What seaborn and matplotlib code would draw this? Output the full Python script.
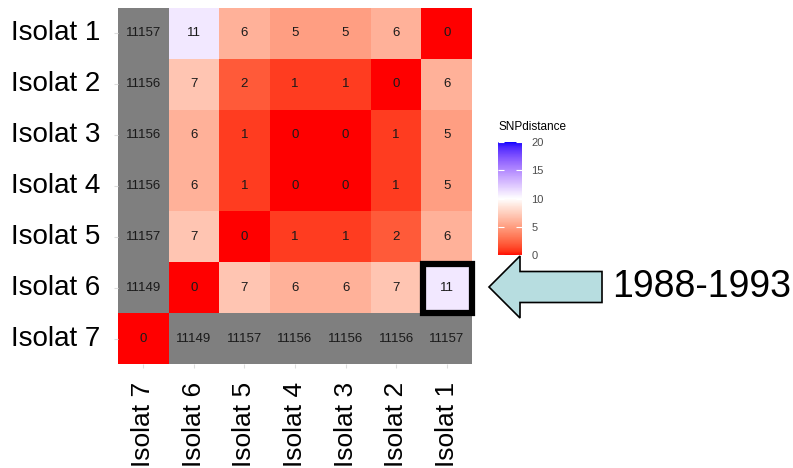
import numpy as np
import pandas as pd
import matplotlib
matplotlib.use("Agg")
import matplotlib.pyplot as plt
from matplotlib.colors import ListedColormap, Normalize
from matplotlib.patches import Rectangle, FancyArrow
import matplotlib.cm as cm
import seaborn as sns

# SNP distance matrix
row_labels = ["Isolat 1", "Isolat 2", "Isolat 3", "Isolat 4", "Isolat 5", "Isolat 6", "Isolat 7"]
col_labels = ["Isolat 7", "Isolat 6", "Isolat 5", "Isolat 4", "Isolat 3", "Isolat 2", "Isolat 1"]
isolat_1 = [11157, 11, 6, 5, 5, 6, 0]
isolat_2 = [11156, 7, 2, 1, 1, 0, 6]
isolat_3 = [11156, 6, 1, 0, 0, 1, 5]
isolat_4 = [11156, 6, 1, 0, 0, 1, 5]
isolat_5 = [11157, 7, 0, 1, 1, 2, 6]
isolat_6 = [11149, 0, 7, 6, 6, 7, 11]
isolat_7 = [0, 11149, 11157, 11156, 11156, 11156, 11157]
highlight_label = "1988-1993"
legend_title = "SNPdistance"
scale_limit = 20

df = pd.DataFrame([isolat_1, isolat_2, isolat_3, isolat_4, isolat_5, isolat_6, isolat_7],
                  index=row_labels, columns=col_labels)


# diverging red-white-blue gradient interpolated in CIE Lab
def srgb_to_lab(rgb):
    rgb = np.asarray(rgb, float)
    lin = np.where(rgb <= 0.04045, rgb / 12.92, ((rgb + 0.055) / 1.055) ** 2.4)
    M = np.array([[0.4124, 0.3576, 0.1805], [0.2126, 0.7152, 0.0722], [0.0193, 0.1192, 0.9505]])
    xyz = lin @ M.T / np.array([0.95047, 1.0, 1.08883])
    f = np.where(xyz > 0.008856, np.cbrt(xyz), 7.787 * xyz + 16 / 116)
    return np.stack([116 * f[..., 1] - 16, 500 * (f[..., 0] - f[..., 1]), 200 * (f[..., 1] - f[..., 2])], -1)


def lab_to_srgb(lab):
    lab = np.asarray(lab, float)
    fy = (lab[..., 0] + 16) / 116
    fx = fy + lab[..., 1] / 500
    fz = fy - lab[..., 2] / 200
    f = np.stack([fx, fy, fz], -1)
    xyz = np.where(f ** 3 > 0.008856, f ** 3, (f - 16 / 116) / 7.787) * np.array([0.95047, 1.0, 1.08883])
    Minv = np.array([[3.2406, -1.5372, -0.4986], [-0.9689, 1.8758, 0.0415], [0.0557, -0.2040, 1.0570]])
    lin = xyz @ Minv.T
    rgb = np.where(lin <= 0.0031308, 12.92 * lin, 1.055 * np.clip(lin, 0, None) ** (1 / 2.4) - 0.055)
    return np.clip(rgb, 0, 1)


stops = srgb_to_lab([[1, 0, 0], [1, 1, 1], [0, 0, 1]])
t = np.linspace(0, 1, 256)
labs = np.where((t < 0.5)[:, None],
                stops[0] + (stops[1] - stops[0]) * (t[:, None] / 0.5),
                stops[1] + (stops[2] - stops[1]) * ((t[:, None] - 0.5) / 0.5))
cmap = ListedColormap(lab_to_srgb(labs))
cmap.set_over("#7f7f7f")

plt.rcParams["font.family"] = ["Liberation Sans", "DejaVu Sans"]

fig = plt.figure(figsize=(7.93, 4.68), dpi=100)
ax = fig.add_axes([0.1488, 0.2222, 0.4464, 0.7607])

sns.heatmap(df, ax=ax, cmap=cmap, vmin=0, vmax=scale_limit, cbar=False,
            annot=True, fmt="d", annot_kws={"color": "#1a1a1a", "fontsize": 9.5},
            square=False)

ax.set_xticklabels(col_labels, rotation=90, fontsize=19, color="black")
ax.set_yticklabels(row_labels, rotation=0, fontsize=20, color="black")
ax.tick_params(axis="both", length=3, color="#dddddd", pad=10)
ax.set_xlabel("")
ax.set_ylabel("")

# highlight box around Isolat 6 / Isolat 1
ri = row_labels.index("Isolat 6")
ci = col_labels.index("Isolat 1")
ax.add_patch(Rectangle((ci + 0.03, ri + 0.03), 0.97, 0.97, fill=False, lw=4.5,
                       edgecolor="black", clip_on=False, zorder=5))

# colour bar
cax = fig.add_axes([0.628, 0.455, 0.030, 0.2415])
sm = cm.ScalarMappable(norm=Normalize(0, scale_limit), cmap=cmap)
cb = fig.colorbar(sm, cax=cax, ticks=[0, 5, 10, 15, 20])
cb.outline.set_visible(False)
cax.tick_params(direction="in", left=True, right=True, length=4, width=0.8,
                color="#ffffff", labelsize=8, labelcolor="#4d4d4d", pad=7)
fig.text(0.628, 0.715, legend_title, fontsize=8.5, color="black", ha="left", va="bottom")

# arrow pointing to the highlighted cell
arrow = FancyArrow(602 / 793, 1 - 287 / 468, -(602 - 489) / 793, 0,
                   width=31 / 468, head_width=62 / 468, head_length=31 / 793,
                   length_includes_head=True, transform=fig.transFigure,
                   facecolor="#b7dde0", edgecolor="black", lw=1.2)
fig.patches.append(arrow)
fig.text(612 / 793, 1 - 287 / 468, highlight_label, fontsize=27, ha="left", va="center",
         color="black")

fig.savefig("out.png", dpi=100)
